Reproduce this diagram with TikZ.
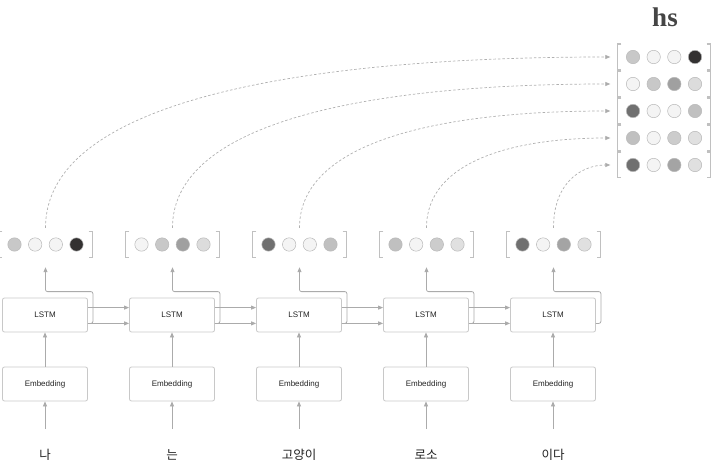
\documentclass[tikz,border=0pt]{standalone}
\usepackage{fontspec}
\newfontfamily\krfont{Noto Sans CJK KR}
\newfontfamily\sansf{Liberation Sans}
\newfontfamily\hsfont{Liberation Serif}
\usetikzlibrary{arrows.meta,calc}
\definecolor{boxc}{HTML}{C8C8C8}
\definecolor{arr}{HTML}{ABABAB}
\definecolor{brkc}{HTML}{C0C0C0}
\definecolor{dsh}{HTML}{B0B0B0}
\definecolor{txt}{HTML}{222222}
\definecolor{hsc}{HTML}{454545}
\definecolor{cir}{HTML}{B8B8B8}
\definecolor{gA}{HTML}{F4F4F4}
\definecolor{gB}{HTML}{C8C8C8}
\definecolor{gC}{HTML}{333131}
\definecolor{gD}{HTML}{A0A0A0}
\definecolor{gE}{HTML}{DCDCDC}
\definecolor{gF}{HTML}{707070}
\definecolor{gG}{HTML}{C0C0C0}
\definecolor{gH}{HTML}{CCCCCC}
\definecolor{gI}{HTML}{E0E0E0}
\definecolor{gJ}{HTML}{A4A4A4}
\newcommand\mybrk[1]{%
  \draw[brk] ($(#1.north west)+(4,0)$) -- (#1.north west) -- (#1.south west) -- ++(4,0);
  \draw[brk] ($(#1.north east)+(-4,0)$) -- (#1.north east) -- (#1.south east) -- ++(-4,0);}
\begin{document}
\begin{tikzpicture}[x=1pt,y=1pt,
  box/.style={draw=boxc, line width=0.8pt, rounded corners=2pt, minimum width=85pt,
    minimum height=34pt, inner sep=0pt, font=\sansf\fontsize{8}{9}\selectfont, text=txt},
  word/.style={font=\krfont\fontsize{12.5}{13}\selectfont, text=txt, inner sep=1pt},
  vec/.style={minimum width=94pt, minimum height=25pt, inner sep=0pt},
  hrow/.style={minimum width=93pt, minimum height=25.5pt, inner sep=0pt},
  brk/.style={draw=brkc, line width=1.1pt},
  dot/.style={circle, draw=cir, line width=0.5pt, minimum size=13.4pt, inner sep=0pt},
  conn/.style={draw=arr, line width=0.8pt, -{Triangle[length=5pt,width=4pt]}},
  dashc/.style={draw=dsh, line width=0.7pt, dash pattern=on 2.5pt off 2pt,
    -{Triangle[length=5pt,width=4pt,color=arr,fill=arr]}}]
\useasboundingbox (0,0) rectangle (721,-468);
% title
\node[font=\hsfont\bfseries\fontsize{27}{27}\selectfont, text=hsc] (hs) at (665,-17) {hs};
% columns
\foreach \i/\w in {1/나,2/는,3/고양이,4/로소,5/이다} {
  \pgfmathsetmacro\cx{45+127*(\i-1)}
  \node[word] (w\i) at (\cx,-455) {\w};
  \node[box] (e\i) at (\cx,-384) {Embedding};
  \node[box] (l\i) at (\cx,-315) {LSTM};
  \node[vec] (v\i) at (\cx+0.5,-244.5) {};
}
% hs rows
\foreach \i/\y in {1/57,2/84,3/111,4/138,5/165} {
  \node[hrow] (h\i) at (664,-\y) {};
}
% brackets
\foreach \i in {1,...,5} { \mybrk{v\i} \mybrk{h\i} }
% circles
\foreach \i/\a/\b/\c/\d in {1/gB/gA/gA/gC, 2/gA/gB/gD/gE, 3/gF/gA/gA/gG, 4/gG/gA/gH/gI, 5/gF/gA/gJ/gI} {
  \foreach \k/\col in {-31/\a,-10.33/\b,10.33/\c,31/\d} {
    \node[dot, fill=\col] at ($(v\i.center)+(\k,0)$) {};
    \node[dot, fill=\col] at ($(h\i.center)+(\k,0)$) {};
  }
}
% vertical connectors
\foreach \i in {1,...,5} {
  \draw[conn, shorten <=26pt] (w\i.center) -- (e\i.south);
  \draw[conn] (e\i) -- (l\i);
  \draw[conn, rounded corners=2pt, shorten >=10pt] ($(l\i.south east)+(0,9)$) -| ($(l\i.north east)+(5,6)$) -| (v\i.south);
}
% recurrent connectors
\foreach \i/\j in {1/2,2/3,3/4,4/5} {
  \draw[conn] ($(l\i.north east)+(0,-10)$) -- ($(l\j.north west)+(0,-10)$);
  \draw[conn] ($(l\i.south east)+(0,9)$) -- ($(l\j.south west)+(0,9)$);
}
% dashed curves to hs
\foreach \i/\p/\q in {1/131/315, 2/111/245, 3/91/175, 4/70/105, 5/50/35} {
  \draw[dashc, shorten <=4pt, shorten >=7pt] (v\i.north) .. controls ($(v\i.north)+(0,\p)$) and ($(h\i.west)+(-\q,0)$) .. (h\i.west);
}
\end{tikzpicture}
\end{document}
